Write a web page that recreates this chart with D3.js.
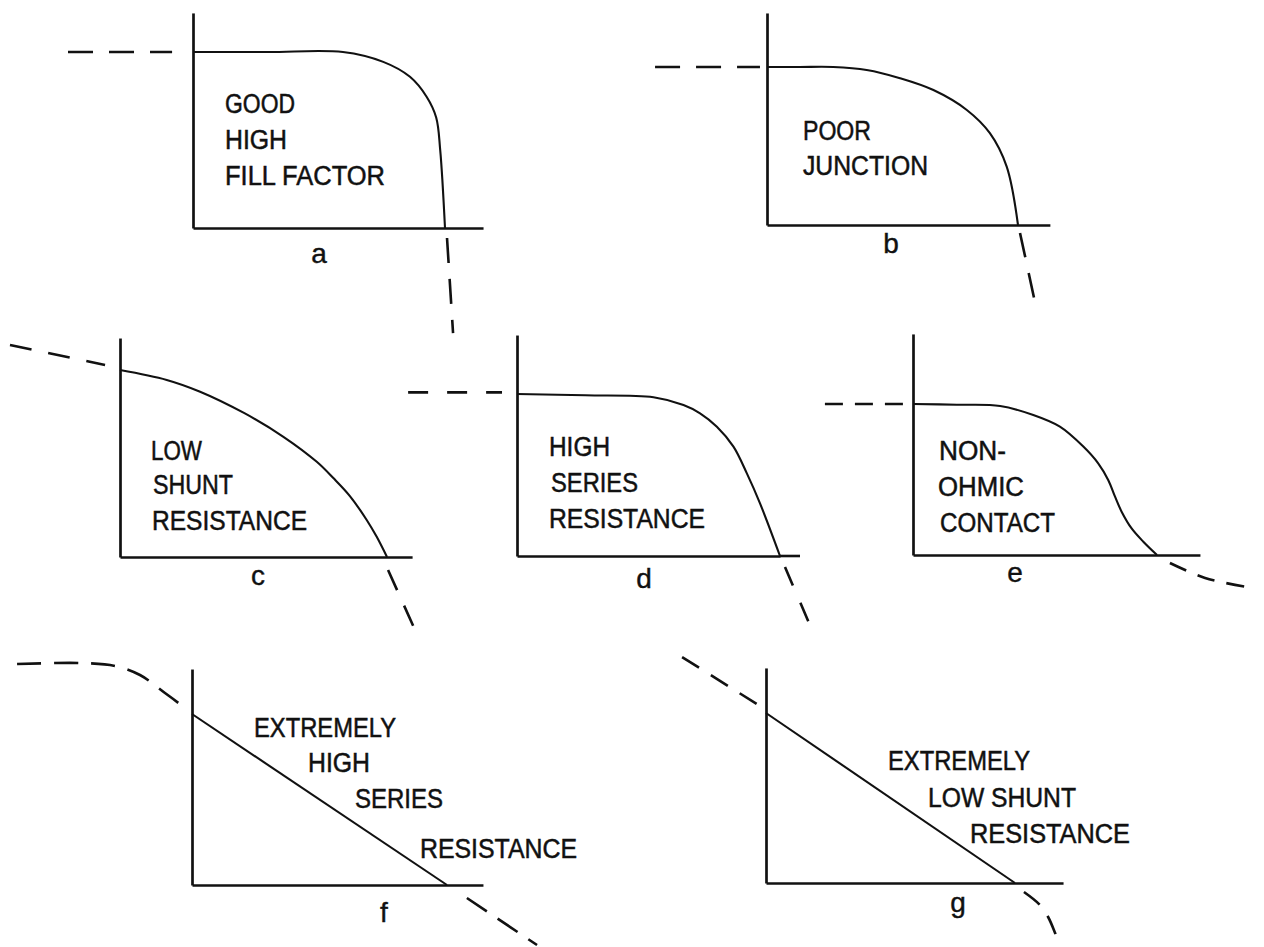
<!DOCTYPE html>
<html>
<head>
<meta charset="utf-8">
<script src="https://cdn.jsdelivr.net/npm/d3@7"></script>
<style>
  html, body { margin: 0; background: #fff; }
  svg { display: block; }
  text { font-family: "Liberation Sans", Arimo, Arial, sans-serif; fill: #111; }
</style>
</head>
<body>
<svg id="fig" width="1264" height="947"></svg>
<script>
// Solar cell I–V curve shapes. Every trace is normalised:
// x = V / Voc, y = I / Isc (so each solid curve runs from (0,1) to (1,0)).

const panelIds = ["a", "b", "c", "d", "e", "f", "g"];

const captions = {
  a: ["GOOD", "HIGH", "FILL FACTOR"],
  b: ["POOR", "JUNCTION"],
  c: ["LOW", "SHUNT", "RESISTANCE"],
  d: ["HIGH", "SERIES", "RESISTANCE"],
  e: ["NON-", "OHMIC", "CONTACT"],
  f: ["EXTREMELY", "HIGH", "SERIES", "RESISTANCE"],
  g: ["EXTREMELY", "LOW SHUNT", "RESISTANCE"]
};

// Measured (solid) part of each curve, first quadrant
const curveA = [[0,1],[0.3,1],[0.595,1],[0.755,0.944],[0.861,0.859],[0.927,0.746],[0.965,0.628],[0.981,0.443],[1,0]];
const curveB = [[0,1],[0.13,1],[0.264,1],[0.397,0.981],[0.530,0.929],[0.663,0.854],[0.796,0.728],[0.888,0.581],[0.955,0.369],[1,0]];
const curveC = [[0,1],[0.175,0.947],[0.300,0.884],[0.466,0.769],[0.612,0.643],[0.737,0.509],[0.799,0.422],[0.861,0.326],[0.924,0.198],[0.961,0.109],[1,0]];
const curveD = [[0,1],[0.26,0.992],[0.519,0.980],[0.633,0.932],[0.696,0.881],[0.760,0.798],[0.823,0.675],[0.874,0.510],[0.924,0.325],[1,0]];
const curveE = [[0,1],[0.18,0.995],[0.357,0.987],[0.493,0.927],[0.602,0.850],[0.698,0.718],[0.759,0.607],[0.800,0.497],[0.828,0.386],[0.855,0.287],[0.896,0.176],[0.944,0.088],[1,0]];
const curveF = [[0,1],[1,0]];
const curveG = [[0,1],[1,0]];

// Dashed continuations outside the first quadrant (reverse bias / forward bias)
const extA = [[[-0.496,1],[-0.083,1]], [[1.008,-0.057],[1.032,-0.597]]];
const extB = [[[-0.446,1],[-0.028,1]], [[1.008,-0.05],[1.076,-0.55]]];
const extC = [[[-0.412,1.134],[-0.056,1.027]], [[1.004,-0.07],[1.105,-0.39]]];
const extD = [[[-0.414,1.01],[-0.057,1.01]], [[1.019,-0.068],[1.125,-0.469]], [[1.0,0],[1.095,0]]];
const extE = [[[-0.361,1],[-0.02,1]], [[1.053,-0.053],[1.197,-0.152],[1.369,-0.212]]];
const extF = [[[-0.686,1.292],[-0.439,1.298],[-0.302,1.281],[-0.204,1.228],[-0.106,1.123],[-0.027,1.035]], [[1.078,-0.076],[1.353,-0.351]]];
const extG = [[[-0.337,1.329],[-0.024,1.041]], [[1.036,-0.053],[1.100,-0.129],[1.133,-0.2],[1.161,-0.294],[1.185,-0.39]]];

const curves = { a: curveA, b: curveB, c: curveC, d: curveD, e: curveE, f: curveF, g: curveG };
const extensions = { a: extA, b: extB, c: extC, d: extD, e: extE, f: extF, g: extG };

// Page layout of each small plot: origin, pixel size of Voc / Isc, axis lengths,
// caption placement (left x, baseline, fitted width) and panel letter position.
const layout = {
  a: { x0: 193, y0: 228, w: 252, h: 176, xMax: 1.151, yMax: 1.222, cap: [[225,113,70],[225,149,62],[225,185,160]], lab: [319,263], dash: "25,16" },
  b: { x0: 767, y0: 225, w: 251, h: 158, xMax: 1.127, yMax: 1.342, cap: [[803,140,68],[803,175,125]], lab: [891,253], dash: "25,16" },
  c: { x0: 120, y0: 557, w: 267, h: 187, xMax: 1.094, yMax: 1.171, cap: [[151,460,51],[153,494,80],[152,530,155]], lab: [258,585], dash: "22,17" },
  d: { x0: 517, y0: 556, w: 263, h: 162, xMax: 1.0,   yMax: 1.364, cap: [[549,456,61],[551,492,87],[549,528,156]], lab: [644,588], dash: "20,19" },
  e: { x0: 913, y0: 555, w: 244, h: 151, xMax: 1.176, yMax: 1.464, cap: [[939,460,67],[938,496,86],[940,532,115]], lab: [1015,582], dash: "18,12" },
  f: { x0: 192, y0: 885, w: 255, h: 171, xMax: 1.141, yMax: 1.263, cap: [[254,737,142],[308,772,62],[355,808,88],[420,858,157]], lab: [384,922], dash: "24,13" },
  g: { x0: 766, y0: 883, w: 249, h: 170, xMax: 1.193, yMax: 1.265, cap: [[888,770,142],[928,807,148],[970,843,160]], lab: [958,912], dash: "20,14" }
};

const svg = d3.select("#fig");

panelIds.forEach(id => {
  const L = layout[id];
  const x = d3.scaleLinear().domain([0, 1]).range([L.x0, L.x0 + L.w]);
  const y = d3.scaleLinear().domain([0, 1]).range([L.y0, L.y0 - L.h]);

  const g = svg.append("g").attr("class", "panel panel-" + id);

  // axes: current (vertical) and voltage (horizontal), no ticks
  const xAxisScale = x.copy().domain([0, L.xMax]).range([x(0), x(L.xMax)]);
  const yAxisScale = y.copy().domain([0, L.yMax]).range([y(0), y(L.yMax)]);
  g.append("g")
    .attr("transform", `translate(0,${y(0)})`)
    .call(d3.axisBottom(xAxisScale).tickValues([]).tickSizeOuter(0))
    .select(".domain").attr("stroke", "#111").attr("stroke-width", 2.7);
  g.append("g")
    .attr("transform", `translate(${x(0)},0)`)
    .call(d3.axisLeft(yAxisScale).tickValues([]).tickSizeOuter(0))
    .select(".domain").attr("stroke", "#111").attr("stroke-width", 2.7);

  const line = d3.line().x(d => x(d[0])).y(d => y(d[1])).curve(d3.curveCatmullRom.alpha(0.5));

  // solid measured curve
  g.append("path")
    .datum(curves[id])
    .attr("d", line)
    .attr("fill", "none")
    .attr("stroke", "#111")
    .attr("stroke-width", 2.1)
    .attr("stroke-linejoin", "round");

  // dashed continuations
  g.selectAll("path.ext")
    .data(extensions[id])
    .join("path")
    .attr("class", "ext")
    .attr("d", line)
    .attr("fill", "none")
    .attr("stroke", "#111")
    .attr("stroke-width", 2.6)
    .attr("stroke-dasharray", L.dash);

  // caption lines, fitted to the condensed lettering width
  captions[id].forEach((t, i) => {
    const [cx, cy, cw] = L.cap[i];
    g.append("text")
      .attr("x", cx)
      .attr("y", cy)
      .attr("font-size", 27)
      .attr("textLength", cw)
      .attr("lengthAdjust", "spacingAndGlyphs")
      .attr("stroke", "#111")
      .attr("stroke-width", 0.5)
      .text(t);
  });

  // panel letter
  g.append("text")
    .attr("x", L.lab[0])
    .attr("y", L.lab[1])
    .attr("font-size", 28)
    .attr("text-anchor", "middle")
    .attr("stroke", "#111")
    .attr("stroke-width", 0.4)
    .text(id);
});
</script>
</body>
</html>
